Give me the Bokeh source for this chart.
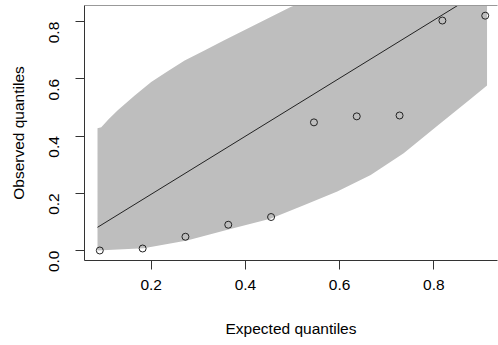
import math
from bokeh.plotting import figure
from bokeh.models import FixedTicker, PrintfTickFormatter, LinearAxis, Range1d
from bokeh.embed import file_html
from bokeh.resources import INLINE

# Points: expected vs observed quantiles
expected = [0.0909, 0.1818, 0.2727, 0.3636, 0.4545, 0.5455, 0.6364, 0.7273, 0.8182, 0.9091]
observed = [0.000, 0.007, 0.048, 0.090, 0.117, 0.448, 0.469, 0.472, 0.804, 0.821]

# Confidence band (upper and lower edges)
band_upper_x = [0.086, 0.094, 0.110, 0.129, 0.165, 0.200, 0.235, 0.271, 0.313, 0.354, 0.425, 0.496, 0.600, 0.750, 0.913]
band_upper_y = [0.427, 0.431, 0.460, 0.490, 0.542, 0.589, 0.627, 0.664, 0.699, 0.734, 0.793, 0.851, 0.920, 0.980, 1.000]
band_lower_x = [0.086, 0.184, 0.276, 0.368, 0.453, 0.524, 0.595, 0.666, 0.736, 0.807, 0.878, 0.913]
band_lower_y = [0.000, 0.008, 0.035, 0.075, 0.111, 0.158, 0.206, 0.264, 0.340, 0.435, 0.530, 0.577]

# Reference line
fit_x = [0.086, 0.913]
fit_y = [0.081, 0.920]

x_ticks = [0.2, 0.4, 0.6, 0.8]
y_ticks = [0.0, 0.2, 0.4, 0.6, 0.8]

FONT = "Liberation Sans"
FS = "15.5px"

p = figure(width=498, height=345,
           x_range=Range1d(0.0584, 0.9352), y_range=Range1d(-0.035, 0.8566),
           output_backend="svg", toolbar_location=None,
           min_border_left=84, min_border_right=1, min_border_top=5, min_border_bottom=85)
p.xgrid.visible = False
p.ygrid.visible = False
p.outline_line_color = None
p.background_fill_color = "white"
p.border_fill_color = "white"

patch_x = band_upper_x + band_lower_x[::-1]
patch_y = band_upper_y + band_lower_y[::-1]
p.patch(patch_x, patch_y, fill_color="#BEBEBE", line_color=None)
p.line(fit_x, fit_y, line_color="#222222", line_width=1)
p.scatter(expected, observed, size=7, marker="circle", fill_color=None,
          line_color="#222222", line_width=1)

xa = p.xaxis[0]
xa.ticker = FixedTicker(ticks=x_ticks)
xa.formatter = PrintfTickFormatter(format="%.1f")
xa.axis_label = "Expected quantiles"
xa.major_tick_out = 9
xa.major_tick_in = 0
xa.minor_tick_out = 0
xa.minor_tick_in = 0
xa.major_label_standoff = 10
xa.axis_label_standoff = 27
xa.major_label_text_font = FONT
xa.major_label_text_font_size = FS
xa.major_label_text_color = "black"
xa.axis_label_text_font = FONT
xa.axis_label_text_font_size = FS
xa.axis_label_text_font_style = "normal"
xa.axis_label_text_color = "black"
xa.axis_line_color = "#333333"
xa.major_tick_line_color = "#333333"

ya = p.yaxis[0]
ya.ticker = FixedTicker(ticks=y_ticks)
ya.formatter = PrintfTickFormatter(format="%.1f")
ya.axis_label = "Observed quantiles"
ya.major_tick_out = 9
ya.major_tick_in = 0
ya.minor_tick_out = 0
ya.minor_tick_in = 0
ya.major_label_orientation = math.pi / 2
ya.major_label_standoff = 21
ya.axis_label_standoff = 15
ya.major_label_text_font = FONT
ya.major_label_text_font_size = FS
ya.major_label_text_color = "black"
ya.axis_label_text_font = FONT
ya.axis_label_text_font_size = FS
ya.axis_label_text_font_style = "normal"
ya.axis_label_text_color = "black"
ya.axis_line_color = "#333333"
ya.major_tick_line_color = "#333333"

top = LinearAxis(ticker=FixedTicker(ticks=[]), major_tick_out=0, major_tick_in=0,
                 minor_tick_out=0, minor_tick_in=0, major_label_standoff=0,
                 major_label_text_font_size="0px", axis_line_color="#999999")
p.add_layout(top, "above")

open("out.html", "w").write(file_html(p, INLINE))
